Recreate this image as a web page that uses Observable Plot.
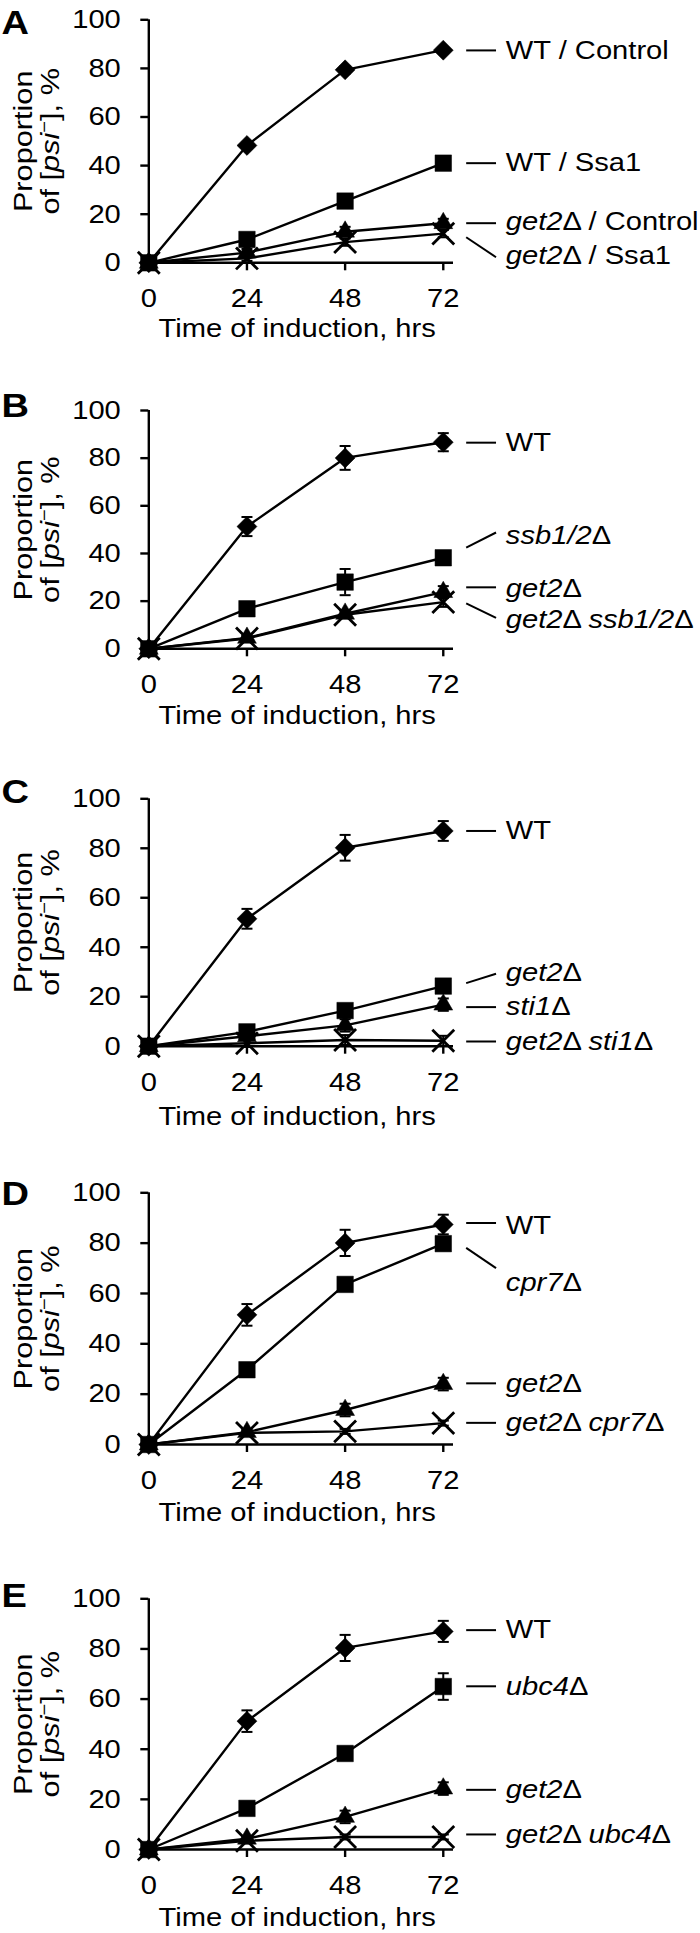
<!DOCTYPE html>
<html>
<head>
<meta charset="utf-8">
<script src="https://cdn.jsdelivr.net/npm/d3@7"></script>
<script src="https://cdn.jsdelivr.net/npm/@observablehq/plot@0.6"></script>
<style>
  html, body { margin: 0; padding: 0; background: #fff; }
  #root { position: relative; width: 700px; height: 1933px; background: #fff; }
  #root svg { position: absolute; left: 0; }
</style>
</head>
<body>
<div id="root"></div>
<script>
// ---------------- DATA ----------------
const hours = [0, 24, 48, 72];
const yTicks = [0, 20, 40, 60, 80, 100];
const xTitle = "Time of induction, hrs";
const yTitle1 = "Proportion";
const yTitle2 = "of [psi⁻], %";
const panelLetters = ["A", "B", "C", "D", "E"];

// Panel A
const namesA = ["WT / Control", "WT / Ssa1", "get2Δ / Control", "get2Δ / Ssa1"];
const valuesA = [[0, 48.3, 79.4, 87.5], [0, 9.6, 25.4, 41], [0, 4.2, 12.8, 16.3], [0, 1.8, 8.5, 12]];
const errorsA = [[0, 1.2, 1.5, 1.2], [0, 0, 0, 0], [0, 1.5, 2, 1.8], [0, 1, 1.5, 1.5]];
const leaderFromA = [87.4, 41, 16.3, 10.5];
const leaderToA = [87.4, 41, 16.3, 2.3];
const labelAtA = [87.4, 41, 17, 2.8];

// Panel B
const namesB = ["WT", "ssb1/2Δ", "get2Δ", "get2Δ ssb1/2Δ"];
const valuesB = [[0, 51.3, 80.1, 86.7], [0, 16.8, 28, 38.2], [0, 4.6, 14.7, 23.8], [0, 4.3, 14.3, 19.6]];
const errorsB = [[0, 4, 5, 3.8], [0, 1.5, 5.5, 2], [0, 1, 1.5, 2.5], [0, 1, 1.5, 2]];
const leaderFromB = [86.5, 42.5, 25.8, 19.1];
const leaderToB = [86.5, 48.8, 25.8, 13];
const labelAtB = [86.5, 47.4, 25.2, 12.1];

// Panel C
const namesC = ["WT", "get2Δ", "sti1Δ", "get2Δ sti1Δ"];
const valuesC = [[0, 51.5, 80.2, 87], [0, 5.8, 14.4, 24.3], [0, 4, 8.4, 16.8], [0, 1.2, 2.5, 2.2]];
const errorsC = [[0, 4, 5.2, 4], [0, 1, 1, 1], [0, 1, 2.5, 2.5], [0, 1.5, 2, 2]];
const leaderFromC = [87, 25.5, 15.8, 1.9];
const leaderToC = [87, 29.3, 15.8, 1.9];
const labelAtC = [87, 29.8, 15.8, 1.9];

// Panel D
const namesD = ["WT", "cpr7Δ", "get2Δ", "get2Δ cpr7Δ"];
const valuesD = [[0, 51.5, 80.1, 87.4], [0, 29.7, 63.6, 79.8], [0, 4.9, 13.7, 24], [0, 4.6, 5.2, 8.5]];
const errorsD = [[0, 4.3, 5.2, 3.9], [0, 1, 1, 1.5], [0, 1, 2.5, 2.5], [0, 1, 1, 1]];
const leaderFromD = [88, 78.1, 24.3, 8.6];
const leaderToD = [88, 70.1, 24.3, 8.6];
const labelAtD = [87, 64.1, 24.3, 8.6];

// Panel E
const namesE = ["WT", "ubc4Δ", "get2Δ", "get2Δ ubc4Δ"];
const valuesE = [[0, 51.2, 80.4, 87], [0, 16.4, 38.3, 65], [0, 4.3, 13, 24.3], [0, 3.5, 5, 5]];
const errorsE = [[0, 4.3, 5.2, 4.2], [0, 2.5, 2, 5.3], [0, 1, 2.5, 2.5], [0, 1, 1, 1]];
const leaderFromE = [87.5, 65.1, 23.8, 6];
const leaderToE = [87.5, 65.1, 23.8, 6];
const labelAtE = [87.5, 65.1, 23.8, 6];

// ---------------- LAYOUT / STYLE ----------------
const panels = [
  {letter: panelLetters[0], names: namesA, values: valuesA, errors: errorsA, from: leaderFromA, to: leaderToA, at: labelAtA},
  {letter: panelLetters[1], names: namesB, values: valuesB, errors: errorsB, from: leaderFromB, to: leaderToB, at: labelAtB},
  {letter: panelLetters[2], names: namesC, values: valuesC, errors: errorsC, from: leaderFromC, to: leaderToC, at: labelAtC},
  {letter: panelLetters[3], names: namesD, values: valuesD, errors: errorsD, from: leaderFromD, to: leaderToD, at: labelAtD},
  {letter: panelLetters[4], names: namesE, values: valuesE, errors: errorsE, from: leaderFromE, to: leaderToE, at: labelAtE}
];
const layouts = [
  {top: 0,    height: 380, mt: 19.3, mb: 117.7, letterBase: 33,   titleDy: 65.5},
  {top: 380,  height: 390, mt: 30,   mb: 121.7, letterBase: 36,   titleDy: 66.5},
  {top: 770,  height: 390, mt: 28.3, mb: 114.3, letterBase: 32.5, titleDy: 70},
  {top: 1160, height: 390, mt: 32.3, mb: 106,   letterBase: 44,   titleDy: 68.5},
  {top: 1550, height: 383, mt: 48.3, mb: 84,    letterBase: 56,   titleDy: 68.5}
];
const ML = 148.3, MR = 247;
const xMax = 74.5;
const FONT = "'Liberation Sans', Arial, Helvetica, sans-serif";
const FS = 26;
const LW = 2.4;
const markerStyles = [
  {symbol: "diamond2", r: 9, fill: "black", stroke: "black", strokeWidth: 0.5},
  {symbol: "square2", r: 10.5, fill: "black", stroke: "black", strokeWidth: 0.5},
  {symbol: "triangle2", r: 9, fill: "black", stroke: "black", strokeWidth: 0.5},
  {symbol: "times", r: 10, fill: "none", stroke: "black", strokeWidth: 2.8}
];
const capSymbol = {
  draw(ctx, size) {
    const r = Math.sqrt(size / Math.PI);
    ctx.moveTo(-r, 0);
    ctx.lineTo(r, 0);
  }
};

function makePanel(p, L) {
  const rows = [];
  p.names.forEach((name, i) => hours.forEach((h, j) => {
    rows.push({series: i, name, hour: h, value: p.values[i][j], err: p.errors[i][j]});
  }));
  const errRows = rows.filter(d => d.err > 0);
  const labelRows = p.names.map((name, i) => ({name, from: p.from[i], to: p.to[i], at: p.at[i]}));

  const marks = [
    Plot.ruleY([0], {stroke: "black", strokeWidth: LW}),
    Plot.ruleX([0], {stroke: "black", strokeWidth: LW}),
    Plot.axisY({ticks: yTicks, tickSize: 8, tickPadding: 20, strokeWidth: LW, fontSize: FS, label: null}),
    Plot.axisX({ticks: hours, tickSize: 8, tickPadding: 18, strokeWidth: LW, fontSize: FS, label: null})
  ];
  p.names.forEach((name, i) => {
    marks.push(Plot.line(rows.filter(d => d.series === i), {x: "hour", y: "value", stroke: "black", strokeWidth: LW}));
  });
  marks.push(Plot.ruleX(errRows, {x: "hour", y1: d => d.value - d.err, y2: d => d.value + d.err, stroke: "black", strokeWidth: 2}));
  marks.push(Plot.dot(errRows, {x: "hour", y: d => d.value + d.err, symbol: capSymbol, r: 5.5, fill: "none", stroke: "black", strokeWidth: 2}));
  marks.push(Plot.dot(errRows, {x: "hour", y: d => d.value - d.err, symbol: capSymbol, r: 5.5, fill: "none", stroke: "black", strokeWidth: 2}));
  p.names.forEach((name, i) => {
    const s = markerStyles[i];
    marks.push(Plot.dot(rows.filter(d => d.series === i), {x: "hour", y: "value", symbol: s.symbol, r: s.r, fill: s.fill, stroke: s.stroke, strokeWidth: s.strokeWidth}));
  });
  // series labels with leader lines
  marks.push(Plot.link(labelRows, {x1: 77.6, x2: 84.9, y1: "from", y2: "to", stroke: "black", strokeWidth: 2}));
  marks.push(Plot.text(labelRows, {x: 87.3, y: "at", text: "name", textAnchor: "start", lineAnchor: "middle", fontSize: FS}));
  // panel letter
  marks.push(Plot.text([p.letter], {text: d => d, frameAnchor: "top-left", dx: 1 - ML, dy: L.letterBase - L.mt, textAnchor: "start", lineAnchor: "bottom", fontWeight: "bold", fontSize: 34}));
  // y title (two lines)
  marks.push(Plot.text([yTitle1], {text: d => d, frameAnchor: "left", rotate: -90, dx: 31 - ML, dy: 0, textAnchor: "middle", lineAnchor: "bottom", fontSize: FS}));
  marks.push(Plot.text([yTitle2], {text: d => d, frameAnchor: "left", rotate: -90, dx: 58 - ML, dy: 0, textAnchor: "middle", lineAnchor: "bottom", fontSize: FS}));
  // x title
  marks.push(Plot.text([xTitle], {text: d => d, frameAnchor: "bottom", dx: -4, dy: L.titleDy, lineAnchor: "middle", fontSize: FS}));

  const svg = Plot.plot({
    width: 700,
    height: L.height,
    marginLeft: ML,
    marginRight: MR,
    marginTop: L.mt,
    marginBottom: L.mb,
    x: {type: "linear", domain: [0, xMax]},
    y: {type: "linear", domain: [0, 100]},
    style: {fontFamily: FONT, fontSize: FS + "px", color: "black", background: "white", overflow: "visible"},
    marks
  });
  svg.style.top = L.top + "px";
  return svg;
}

const italicRe = /(get2|ssb1\/2|sti1|cpr7|ubc4|psi⁻)/;
function richify(el) {
  const s = el.textContent;
  if (!italicRe.test(s)) return;
  const parts = s.split(italicRe).filter(t => t.length);
  while (el.firstChild) el.removeChild(el.firstChild);
  const ns = "http://www.w3.org/2000/svg";
  for (const part of parts) {
    if (part === "psi⁻") {
      const t1 = document.createElementNS(ns, "tspan");
      t1.setAttribute("font-style", "italic");
      t1.textContent = "psi";
      el.appendChild(t1);
      const t2 = document.createElementNS(ns, "tspan");
      t2.setAttribute("font-size", "17");
      t2.setAttribute("baseline-shift", "super");
      t2.textContent = "−";
      el.appendChild(t2);
    } else if (italicRe.test(part)) {
      const t = document.createElementNS(ns, "tspan");
      t.setAttribute("font-style", "italic");
      t.textContent = part;
      el.appendChild(t);
    } else {
      el.appendChild(document.createTextNode(part));
    }
  }
}

const root = document.getElementById("root");
panels.forEach((p, k) => {
  const svg = makePanel(p, layouts[k]);
  root.appendChild(svg);
  svg.querySelectorAll("text").forEach(el => richify(el));
  // the source lettering is wider than Arial: stretch glyphs along the text direction
  svg.querySelectorAll("text").forEach(el => {
    const tr = el.getAttribute("transform") || "";
    const factor = tr.includes("rotate") ? 1.18 : 1.12;
    const len = el.getComputedTextLength();
    if (len > 0) {
      el.setAttribute("textLength", (len * factor).toFixed(1));
      el.setAttribute("lengthAdjust", "spacingAndGlyphs");
    }
  });
});
</script>
</body>
</html>
